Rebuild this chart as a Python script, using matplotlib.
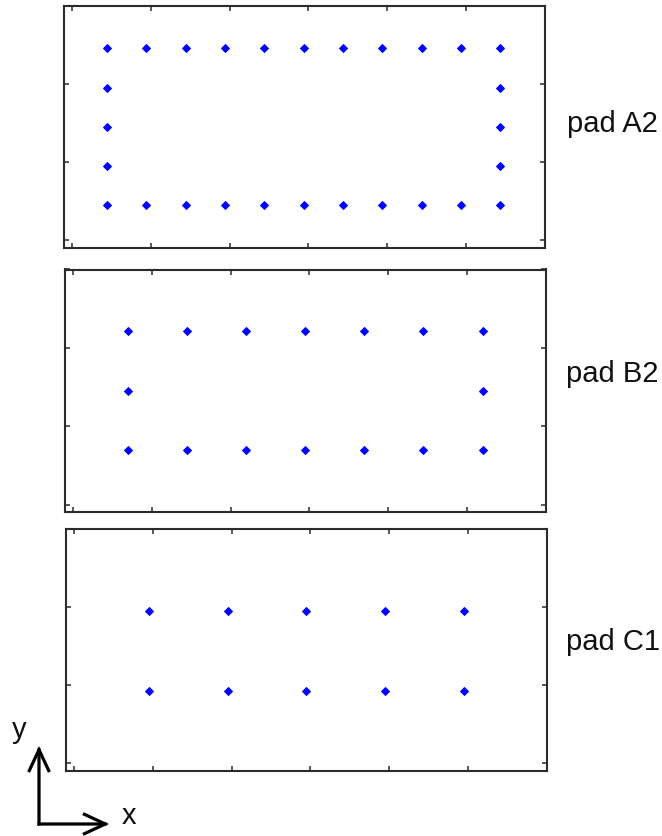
import matplotlib
matplotlib.use("Agg")
import matplotlib.pyplot as plt
from matplotlib.patches import FancyArrowPatch

plt.rcParams['font.family'] = ['Liberation Sans', 'DejaVu Sans']

# ---- data (tick units) ----
pad_labels = ["pad A2", "pad B2", "pad C1"]

# pad A2: perimeter of an 11 x 5 grid
a_row_x = [0.44, 0.94, 1.44, 1.94, 2.44, 2.94, 3.44, 3.94, 4.44, 4.94, 5.44]
a_top_y = 2.46
a_bot_y = 0.45
a_side_x = [0.44, 5.44]
a_side_y = [0.95, 1.45, 1.95]

# pad B2: perimeter of a 7 x 3 grid
b_row_x = [0.70, 1.45, 2.20, 2.95, 3.70, 4.45, 5.20]
b_top_y = 2.21
b_bot_y = 0.70
b_side_x = [0.70, 5.20]
b_side_y = [1.45]

# pad C1: 5 x 2 grid
c_row_x = [0.95, 1.95, 2.95, 3.95, 4.95]
c_top_y = 1.95
c_bot_y = 0.93
c_side_x = []
c_side_y = []

x_ticks = [0, 1, 2, 3, 4, 5, 6]
y_ticks = [0, 1, 2, 3]

W, H = 662, 836
fig = plt.figure(figsize=(W / 100, H / 100), dpi=100)

# axes boxes in pixels: left, right, top, bottom
boxes = [(63.5, 544.5, 5.5, 247.5),
         (64.5, 545.5, 269.5, 512.0),
         (65.5, 546.5, 528.5, 770.5)]
label_pos = [(567, 132.5), (566.5, 381.5), (565.5, 650)]

panels = [
    (a_row_x, a_top_y, a_bot_y, a_side_x, a_side_y),
    (b_row_x, b_top_y, b_bot_y, b_side_x, b_side_y),
    (c_row_x, c_top_y, c_bot_y, c_side_x, c_side_y),
]

frame_col = '#2b2b2b'
for (l, r, t, b), (rx, ty, by, sx, sy), lab, (lx, ly) in zip(boxes, panels, pad_labels, label_pos):
    ax = fig.add_axes([l / W, 1 - b / H, (r - l) / W, (b - t) / H])
    xs = list(rx) + list(rx)
    ys = [ty] * len(rx) + [by] * len(rx)
    for x in sx:
        for y in sy:
            xs.append(x)
            ys.append(y)
    ax.plot(xs, ys, linestyle='none', marker='D', markersize=3.8,
            color='#0000ff', markeredgewidth=0.7)
    ax.set_xlim(-0.11, 6.0)
    ax.set_ylim(-0.09, 3.0)
    ax.set_xticks(x_ticks)
    ax.set_yticks(y_ticks)
    ax.tick_params(direction='in', length=3.8, width=1.1, color=frame_col,
                   top=True, right=True, labelbottom=False, labelleft=False)
    for sp in ax.spines.values():
        sp.set_linewidth(1.5)
        sp.set_color(frame_col)
    fig.text(lx / W, 1 - ly / H, lab, fontsize=21, ha='left', va='baseline',
             color='#111111')

# coordinate-system arrows (pixel overlay)
ov = fig.add_axes([0, 0, 1, 1])
ov.set_xlim(0, W)
ov.set_ylim(H, 0)
ov.axis('off')
ov.patch.set_alpha(0)
origin = (39, 824)
for tip in [(39, 746), (109, 824)]:
    ov.add_patch(FancyArrowPatch(origin, tip, arrowstyle='->,head_length=0.75,head_width=0.35',
                                 mutation_scale=20, linewidth=2.3, color='black',
                                 shrinkA=0, shrinkB=0, capstyle='projecting', joinstyle='miter'))
ov.text(19, 738, 'y', fontsize=21, ha='center', va='baseline', color='#111111')
ov.text(122, 824, 'x', fontsize=21, ha='left', va='baseline', color='#111111')

fig.savefig('out.png', dpi=100)
